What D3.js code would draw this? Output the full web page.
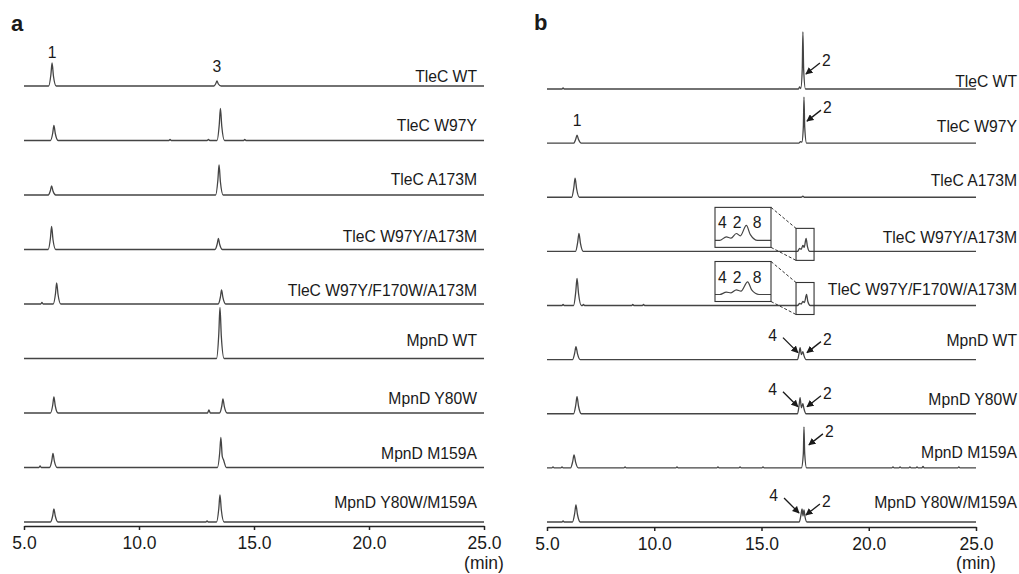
<!DOCTYPE html>
<html>
<head>
<meta charset="utf-8">
<script src="https://cdn.jsdelivr.net/npm/d3@7"></script>
<style>
    body { margin: 0; background: #fff; }
    svg { display: block; }
    text { font-family: "Liberation Sans", Arial, sans-serif; fill: #1a1a1a; }
</style>
</head>
<body>
<div id="chart"></div>
<script>
const timeTicks = [5, 10, 15, 20, 25];

const samples = [
    "TleC WT", "TleC W97Y", "TleC A173M", "TleC W97Y/A173M", "TleC W97Y/F170W/A173M",
    "MpnD WT", "MpnD Y80W", "MpnD M159A", "MpnD Y80W/M159A"
];

// panel a traces: [time (min), intensity]
const tracesA = [
    [[5,0],[6.07,0],[6.17,11.5],[6.22,23],[6.28,10],[6.4,0],[13.26,0],[13.34,2.5],[13.39,5],[13.45,2],[13.57,0],[25,0]],
    [[5,0],[6.15,0],[6.25,7.5],[6.3,15],[6.36,7],[6.48,0],[11.3,0],[11.35,1],[11.4,0],[12.96,0],[13.02,1],[13.08,0],[13.39,0],[13.49,16],[13.54,32],[13.6,14],[13.72,0],[14.55,0],[14.6,1],[14.65,0],[25,0]],
    [[5,0],[6.05,0],[6.15,4.5],[6.2,9],[6.26,4],[6.38,0],[13.33,0],[13.43,15],[13.48,30],[13.54,13],[13.66,0],[25,0]],
    [[5,0],[6.05,0],[6.15,11.5],[6.2,23],[6.26,10],[6.38,0],[13.3,0],[13.4,5.5],[13.45,11],[13.51,5],[13.63,0],[25,0]],
    [[5,0],[5.73,0],[5.78,1.5],[5.83,0],[6.27,0],[6.37,10.5],[6.42,21],[6.48,9.5],[6.6,0],[13.44,0],[13.54,7],[13.59,14],[13.65,6.3],[13.77,0],[25,0]],
    [[5,0],[13.37,0],[13.47,25],[13.52,51],[13.58,22],[13.7,0],[25,0]],
    [[5,0],[6.15,0],[6.25,8],[6.3,16],[6.36,7],[6.48,0],[12.98,0],[13.04,3],[13.1,0],[13.5,0],[13.6,7],[13.65,14],[13.71,6.3],[13.83,0],[25,0]],
    [[5,0],[5.65,0],[5.7,1.5],[5.75,0],[6.11,0],[6.21,7],[6.26,14],[6.32,6.3],[6.44,0],[13.41,0],[13.51,15],[13.56,30],[13.62,11],[13.67,8],[13.8,0],[25,0]],
    [[5,0],[6.15,0],[6.25,6.5],[6.3,13],[6.36,6],[6.48,0],[12.91,0],[12.96,1],[13.01,0],[13.37,0],[13.47,13.5],[13.52,27],[13.58,12],[13.7,0],[25,0]]
];

// panel b traces
const tracesB = [
    [[5,0],[5.7,0],[5.75,1],[5.8,0],[16.72,0],[16.78,2],[16.83,0.5],[16.9,20],[16.93,57],[16.965,20],[17.05,0],[25,0]],
    [[5,0],[6.24,0],[6.34,4],[6.4,8],[6.47,3.6],[6.6,0],[16.74,0],[16.82,1.5],[16.88,1],[16.95,16],[16.98,46],[17.015,16],[17.1,0],[25,0]],
    [[5,0],[6.15,0],[6.25,9.5],[6.31,19],[6.38,8.5],[6.51,0],[16.85,0],[16.93,1],[17.0,0],[25,0]],
    [[5,0],[6.33,0],[6.43,9],[6.49,18],[6.56,8],[6.69,0],[16.68,0],[16.78,3],[16.85,2],[16.93,6],[16.99,4],[17.08,13],[17.14,5],[17.25,0],[25,0]],
    [[5,0],[5.7,0],[5.75,1],[5.8,0],[6.24,0],[6.34,13.5],[6.4,27],[6.47,12],[6.6,0],[6.65,0],[6.7,1],[6.75,0],[8.95,0],[9.0,1],[9.05,0],[9.45,0],[9.5,1],[9.55,0],[16.68,0],[16.78,2],[16.85,1.5],[16.93,4],[17.0,3],[17.1,11],[17.16,4],[17.27,0],[25,0]],
    [[5,0],[6.19,0],[6.29,6.5],[6.35,13],[6.42,6],[6.55,0],[16.68,0],[16.75,6],[16.8,12],[16.86,5],[16.93,8],[16.98,4],[17.08,0],[25,0]],
    [[5,0],[6.24,0],[6.34,8.5],[6.4,17],[6.47,7.5],[6.6,0],[16.68,0],[16.75,8],[16.8,16],[16.86,6],[16.93,10],[16.98,5],[17.08,0],[25,0]],
    [[5,0],[5.23,0],[5.28,1],[5.33,0],[5.65,0],[5.7,1],[5.75,0],[6.1,0],[6.2,6.5],[6.26,13],[6.33,6],[6.46,0],[8.59,0],[8.64,1],[8.69,0],[11.01,0],[11.06,1],[11.11,0],[12.92,0],[12.97,1],[13.02,0],[13.95,0],[14.0,1],[14.05,0],[15.02,0],[15.07,1],[15.12,0],[16.86,0],[16.95,14],[16.98,41],[17.015,14],[17.1,0],[21.08,0],[21.13,1],[21.18,0],[21.41,0],[21.46,1],[21.51,0],[21.87,0],[21.92,1],[21.97,0],[22.2,0],[22.25,1],[22.3,0],[22.48,0],[22.53,1.5],[22.58,0],[24.15,0],[24.2,1],[24.25,0],[25,0]],
    [[5,0],[5.7,0],[5.75,1],[5.8,0],[6.19,0],[6.29,8.5],[6.35,17],[6.42,7.5],[6.55,0],[16.76,0],[16.84,7],[16.89,13],[16.935,6],[16.98,12],[17.03,5],[17.12,0],[25,0]]
];

// peak numbers written above a peak: [row, time, label]
const peakLabelsA = [[0, 6.22, "1"], [0, 13.39, "3"]];
const peakLabelsB = [[1, 6.4, "1"]];

// arrows in panel b: [row, label, tip time, tip intensity, side]
const arrowsB = [
    [0, "2", 17.07, 15, "right"],
    [1, "2", 17.12, 22, "right"],
    [5, "4", 16.7, 7, "left"], [5, "2", 17.12, 7, "right"],
    [6, "4", 16.7, 7, "left"], [6, "2", 17.12, 7, "right"],
    [7, "2", 17.21, 23, "right"],
    [8, "4", 16.75, 9, "left"], [8, "2", 17.07, 7, "right"]
];

// zoomed insets in panel b
const insetRows = [3, 4];
const insetWindow = [16.61, 17.45];
const insetLabels = ["4", "2", "8"];
const insetLabelTimes = [16.72, 16.94, 17.24];

const width = 1019, height = 574;

const panels = [
    { id: "a", traces: tracesA, peakLabels: peakLabelsA, x0: 24, x1: 484, top: 86, bottom: 522, axisY: 526,
      labelRight: 477, lift: [4, 10, 10, 8, 8, 13, 9, 9, 14], letterX: 11, letterY: 31 },
    { id: "b", traces: tracesB, peakLabels: peakLabelsB, x0: 547, x1: 976, top: 89, bottom: 522, axisY: 527,
      labelRight: 1017, lift: [2, 11, 11, 8, 11, 14, 9, 10, 14], letterX: 534, letterY: 30 }
];

const svg = d3.select("#chart")
    .append("svg")
        .attr("width", width)
        .attr("height", height);

const defs = svg.append("defs");

defs.append("marker")
    .attr("id", "head")
    .attr("viewBox", "0 0 10 10")
    .attr("refX", 9)
    .attr("refY", 5)
    .attr("markerWidth", 5.5)
    .attr("markerHeight", 5.5)
    .attr("orient", "auto")
    .append("path")
        .attr("d", "M0,0 L10,5 L0,10 z")
        .style("fill", "#1a1a1a");

const yInt = d3.scaleLinear().domain([0, 60]).range([0, -60]);

panels.forEach(p => {
    const x = d3.scaleLinear().domain([5, 25]).range([p.x0, p.x1]);
    const row = d3.scalePoint().domain(samples).range([p.top, p.bottom]);

    const line = d3.line()
        .x(d => x(d[0]))
        .y(d => yInt(d[1]))
        .curve(d3.curveMonotoneX);

    svg.append("text")
        .attr("x", p.letterX)
        .attr("y", p.letterY)
        .style("font-size", "22px")
        .style("font-weight", "bold")
        .text(p.id);

    const rows = svg.selectAll(null)
        .data(samples)
        .enter().append("g")
        .attr("transform", d => `translate(0,${row(d)})`);

    rows.append("path")
        .datum((d, i) => p.traces[i])
        .attr("fill", "none")
        .attr("stroke", "#444")
        .attr("stroke-width", 1.3)
        .attr("d", line);

    rows.append("text")
        .attr("x", p.labelRight)
        .attr("y", (d, i) => -p.lift[i])
        .style("text-anchor", "end")
        .style("font-size", "15.7px")
        .text(d => d);

    // numbers above peaks, height taken from the trace itself
    p.peakLabels.forEach(([r, t, label]) => {
        const h = d3.max(p.traces[r].filter(pt => Math.abs(pt[0] - t) < 0.1), pt => pt[1]);
        svg.append("text")
            .attr("x", x(t))
            .attr("y", row(samples[r]) + yInt(h) - (h > 10 ? 5 : 9))
            .style("text-anchor", "middle")
            .style("font-size", "15.7px")
            .text(label);
    });

    const xAxisGroup = svg.append("g")
        .attr("transform", `translate(0,${p.axisY})`)
        .call(d3.axisBottom(x).tickValues(timeTicks).tickFormat(d3.format(".1f")).tickSize(4).tickSizeOuter(0).tickPadding(7));

    xAxisGroup.selectAll("line").style("stroke", "#222").style("stroke-width", 1.5);
    xAxisGroup.selectAll("path").style("stroke", "#222").style("stroke-width", 1.5);
    xAxisGroup.selectAll("text")
        .style("fill", "#1a1a1a")
        .style("font-size", "17.5px")
        .style("font-family", "\"Liberation Sans\", Arial, sans-serif");

    svg.append("text")
        .attr("x", p.x1)
        .attr("y", 569)
        .style("text-anchor", "middle")
        .style("font-size", "17.5px")
        .text("(min)");

    if (p.id !== "b") return;

    // arrows pointing at peaks
    arrowsB.forEach(([r, label, t, v, side]) => {
        const tipX = x(t), tipY = row(samples[r]) + yInt(v);
        const tailX = side === "right" ? tipX + 14 : tipX - 15;
        const tailY = side === "right" ? tipY - 11 : tipY - 15;
        svg.append("line")
            .attr("x1", tailX).attr("y1", tailY)
            .attr("x2", tipX).attr("y2", tipY)
            .attr("stroke", "#1a1a1a")
            .attr("stroke-width", 1.3)
            .attr("marker-end", "url(#head)");
        svg.append("text")
            .attr("x", side === "right" ? tailX + 2 : tailX - 6)
            .attr("y", tailY + 3)
            .style("text-anchor", side === "right" ? "start" : "end")
            .style("font-size", "15.7px")
            .text(label);
    });

    // insets magnifying the 4 / 2 / 8 region
    const insetX = d3.scaleLinear().domain(insetWindow).range([715, 771]);
    const insetY = d3.scaleLinear().domain([0, 60]).range([0, -69]);

    insetRows.forEach((r, k) => {
        const base = row(samples[r]);
        const sx0 = x(insetWindow[0]), sx1 = x(insetWindow[1]);

        const insetLine = d3.line()
            .x(d => insetX(d[0]))
            .y(d => base - 11 + insetY(d[1]))
            .curve(d3.curveMonotoneX);

        svg.append("rect")
            .attr("x", sx0).attr("y", base - 23)
            .attr("width", sx1 - sx0).attr("height", 32)
            .attr("fill", "none").attr("stroke", "#333").attr("stroke-width", 1.1);

        defs.append("clipPath")
            .attr("id", `inset-${k}`)
            .append("rect")
                .attr("x", 715).attr("y", base - 44)
                .attr("width", 56).attr("height", 40);

        svg.append("g")
            .attr("clip-path", `url(#inset-${k})`)
            .append("path")
                .datum(p.traces[r])
                .attr("fill", "none")
                .attr("stroke", "#444")
                .attr("stroke-width", 1.2)
                .attr("d", insetLine);

        svg.append("rect")
            .attr("x", 715).attr("y", base - 44)
            .attr("width", 56).attr("height", 40)
            .attr("fill", "none").attr("stroke", "#333").attr("stroke-width", 1.1);

        [[base - 44, base - 23], [base - 4, base + 9]].forEach(([y1, y2]) => {
            svg.append("line")
                .attr("x1", 771).attr("y1", y1)
                .attr("x2", sx0).attr("y2", y2)
                .attr("stroke", "#333")
                .attr("stroke-width", 1)
                .attr("stroke-dasharray", "3,2");
        });

        svg.selectAll(null)
            .data(insetLabels)
            .enter().append("text")
            .attr("x", (d, i) => insetX(insetLabelTimes[i]))
            .attr("y", base - 23)
            .style("text-anchor", "middle")
            .style("font-size", "15.7px")
            .text(d => d);
    });
});
</script>
</body>
</html>
